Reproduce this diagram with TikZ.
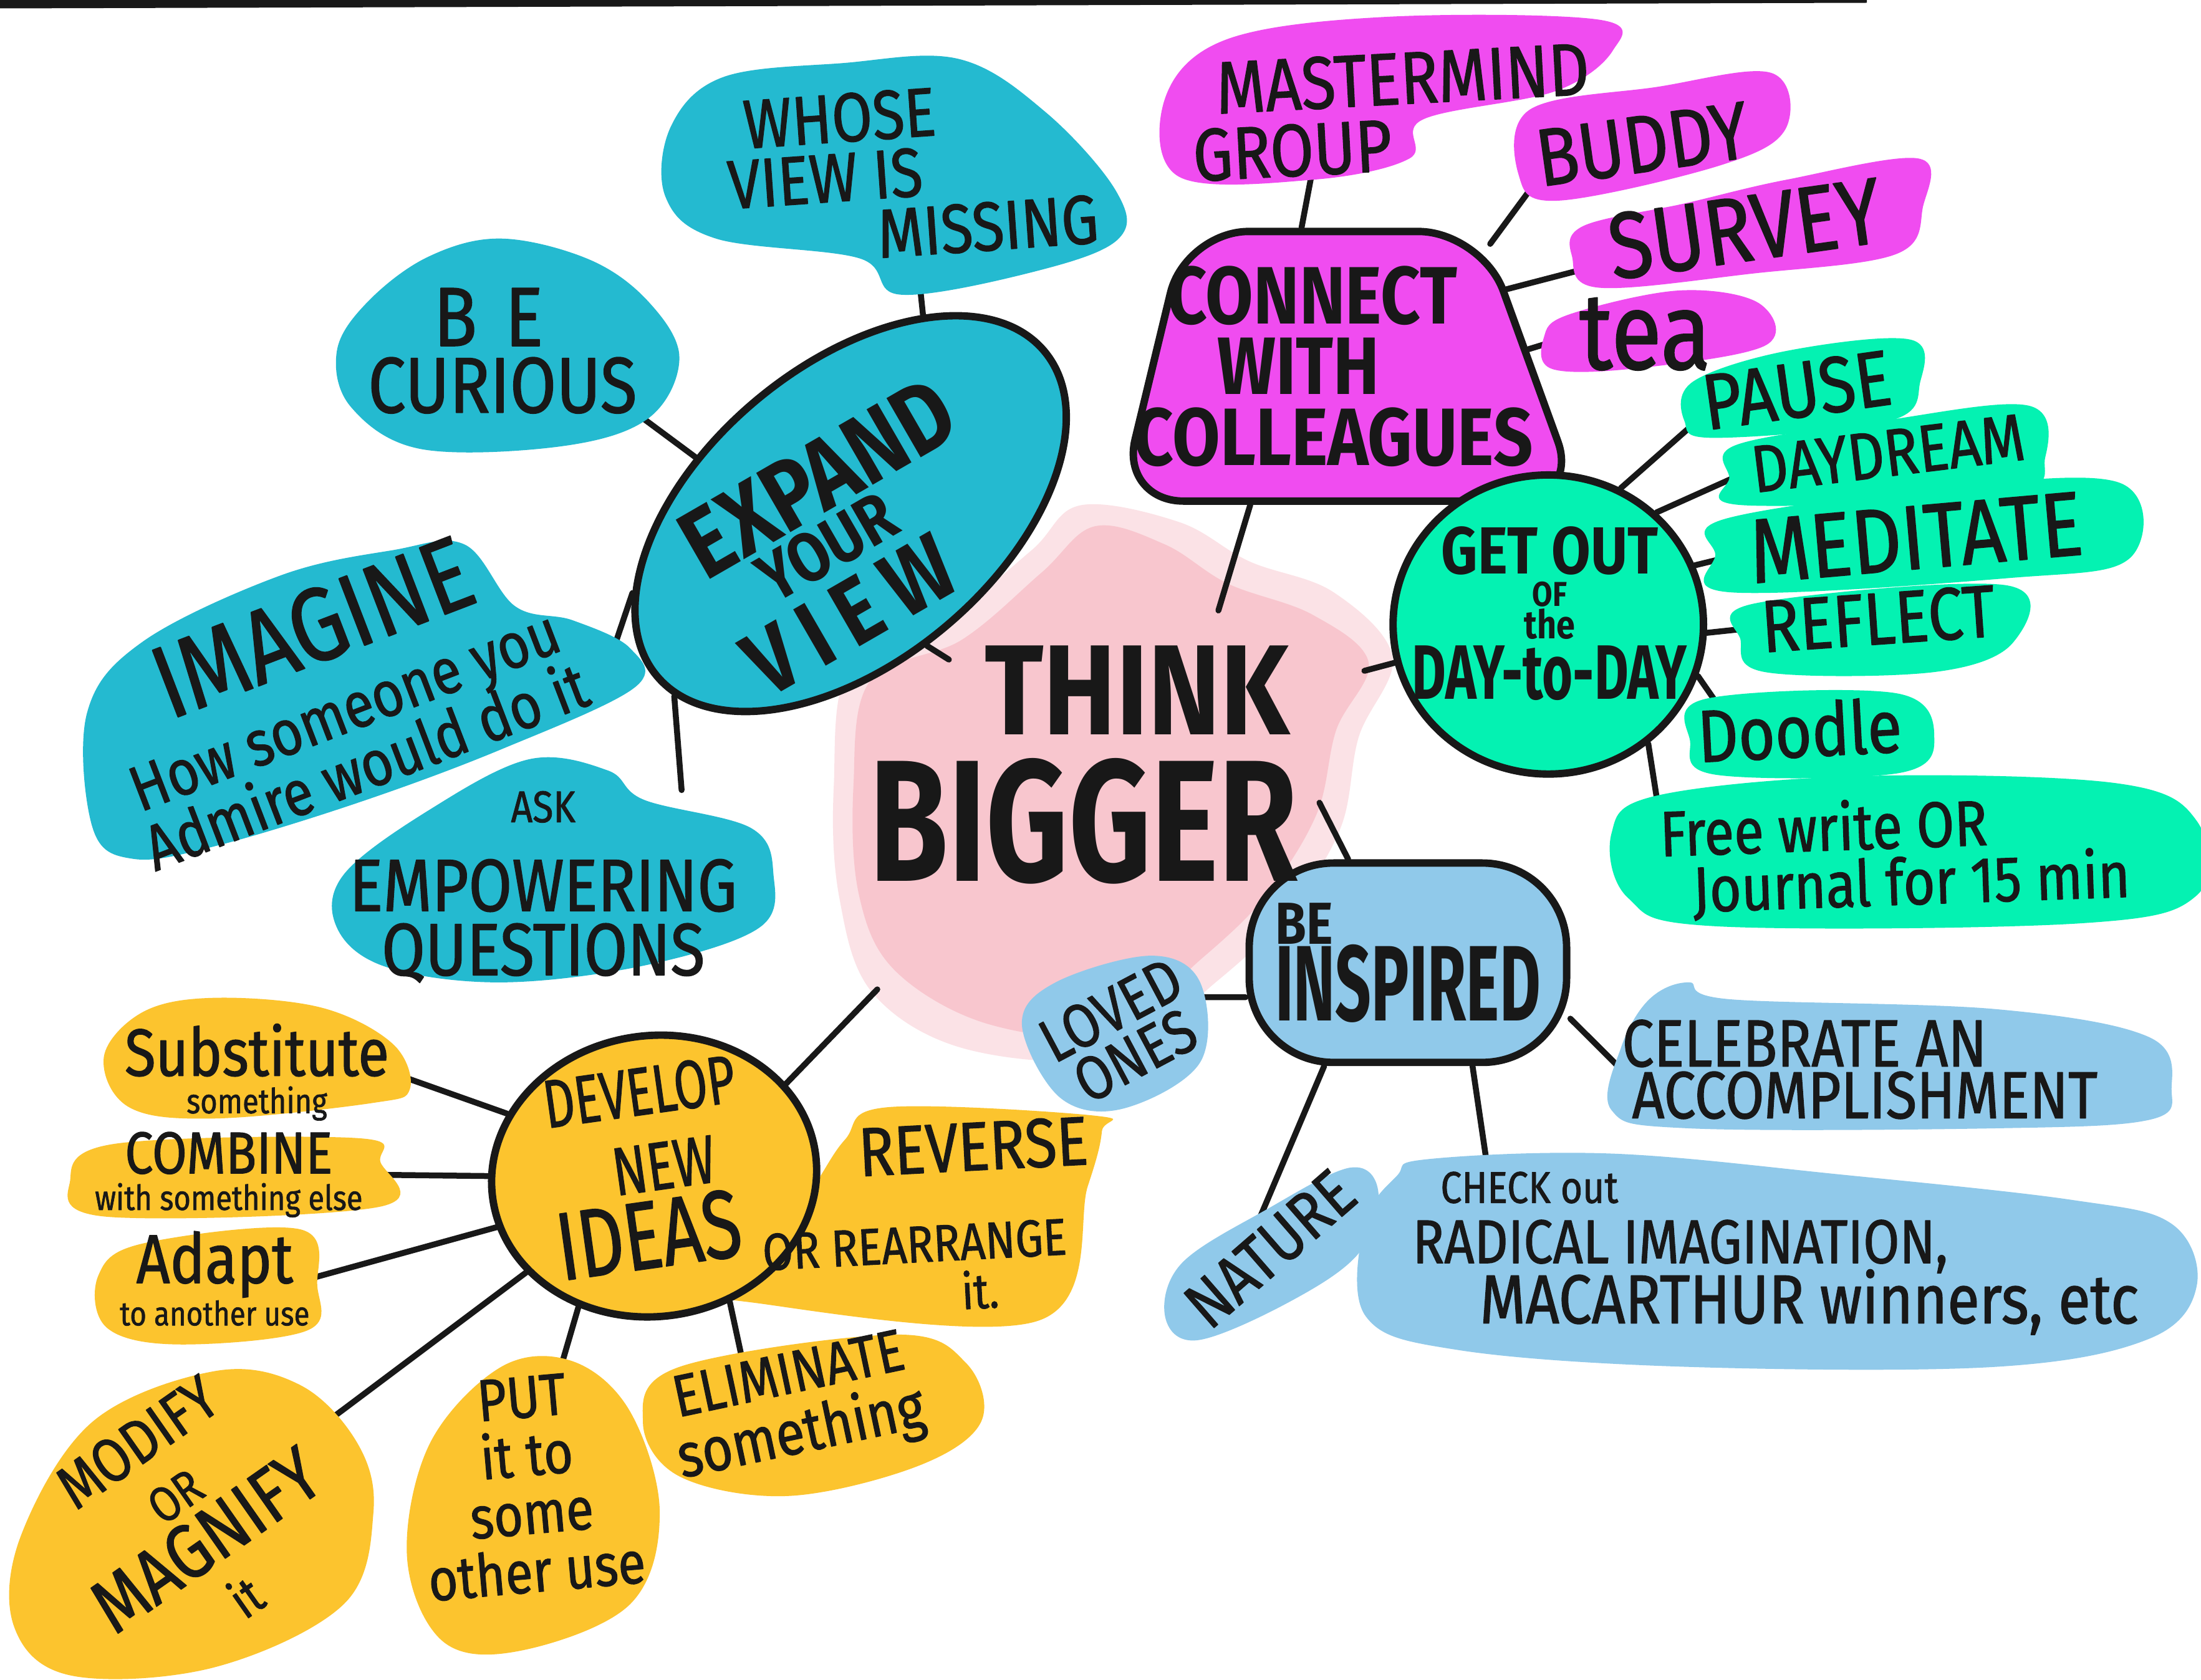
\documentclass[tikz,border=0pt]{standalone}
\usepackage{graphicx}
\usepackage{fontspec}
\setmainfont{Fira Sans}[FakeStretch=0.85, UprightFeatures={FakeBold=1.2}]
\usetikzlibrary{shapes.geometric,positioning}

\definecolor{ink}{RGB}{24,24,24}
\definecolor{viewcyan}{RGB}{36,186,208}
\definecolor{peermagenta}{RGB}{240,76,240}
\definecolor{breakgreen}{RGB}{4,242,178}
\definecolor{sparkblue}{RGB}{144,201,234}
\definecolor{ideayellow}{RGB}{252,196,46}
\definecolor{washpink}{RGB}{248,192,200}

\lineskiplimit=-100pt
\newcommand\fsz[2]{\fontsize{#1}{#2}\selectfont}
\newcommand\sz[1]{\fontsize{#1}{\the\baselineskip}\selectfont}
\newcommand\ctr[1]{\makebox[0pt]{#1}}

\pgfdeclarelayer{paint}
\pgfdeclarelayer{wires}
\pgfsetlayers{paint,wires,main}

\begin{document}
\begin{tikzpicture}
[x=0.01cm, y=-0.01cm, line join=round,
hub/.style={draw=ink, line width=1.5pt, inner sep=0pt, text=ink, align=center},
leaf/.style={inner sep=0pt, text=ink, align=center},
link/.style={draw=ink, line width=1.2pt, line cap=round},
blob/.style={smooth cycle, tension=0.6}
]
\useasboundingbox (0,0) rectangle (1568,1197);

% paper and watercolour wash
\begin{pgfonlayer}{paint}
\fill[white] (0,0) rectangle (1568,1197);
\fill[washpink, opacity=0.45] plot[blob] coordinates {(770,360) (840,372) (890,400) (950,422) (992,468) (968,525) (955,590) (918,650) (866,700) (795,752) (690,748) (622,708) (598,640) (594,560) (606,474) (675,440) (735,392)};
\fill[washpink, opacity=0.8] plot[blob] coordinates {(780,375) (830,388) (875,416) (935,438) (975,472) (952,520) (938,580) (902,638) (855,684) (790,735) (705,730) (638,692) (612,638) (608,560) (620,485) (685,456) (742,408)};
\end{pgfonlayer}
\fill[ink] (0,0) -- (1330,0) -- (1330,2) -- (0,6) -- cycle;

% expand your view
\fill[viewcyan] plot[blob] coordinates {(515,55) (600,45) (683,42) (745,80) (795,136) (797,170) (739,193) (642,210) (612,184) (510,170) (474,140) (478,90)};
\fill[viewcyan] plot[blob] coordinates {(357,170) (420,185) (462,215) (484,255) (462,298) (400,318) (300,320) (250,290) (240,250) (262,215) (305,183)};
\fill[viewcyan] plot[blob] coordinates {(331,388) (367,432) (408,442) (449,462) (452,490) (357,534) (255,572) (153,603) (95,612) (66,590) (62,508) (102,457) (200,410) (280,392)};
\fill[viewcyan] plot[blob] coordinates {(377,541) (433,549) (459,570) (535,590) (551,623) (541,661) (459,688) (357,700) (275,689) (240,661) (245,623) (306,577)};

% connect with colleagues
\fill[peermagenta] plot[blob] coordinates {(874,28) (988,12) (1139,14) (1149,36) (1108,65) (1014,85) (1004,113) (936,128) (840,126) (830,70)};
\fill[peermagenta] plot[blob] coordinates {(1090,78) (1180,62) (1262,52) (1272,92) (1225,118) (1110,143) (1082,125)};
\fill[peermagenta] plot[blob] coordinates {(1128,161) (1200,145) (1273,128) (1367,113) (1370,147) (1351,181) (1248,195) (1139,205) (1120,183)};
\fill[peermagenta] plot[blob] coordinates {(1118,224) (1196,207) (1253,216) (1258,246) (1170,262) (1106,263) (1100,240)};

% get out of the day-to-day
\fill[breakgreen] plot[blob] coordinates {(1206,272) (1273,250) (1361,242) (1368,272) (1346,300) (1222,312) (1200,300)};
\fill[breakgreen] plot[blob] coordinates {(1237,317) (1340,300) (1445,289) (1457,326) (1430,352) (1242,360) (1232,340)};
\fill[breakgreen] plot[blob] coordinates {(1228,370) (1380,348) (1510,344) (1517,398) (1430,412) (1232,422) (1222,395)};
\fill[breakgreen] plot[blob] coordinates {(1250,430) (1429,417) (1434,458) (1377,479) (1258,479) (1240,456)};
\fill[breakgreen] plot[blob] coordinates {(1215,498) (1351,494) (1378,526) (1352,551) (1222,552) (1204,528)};
\fill[breakgreen] plot[blob] coordinates {(1180,567) (1325,553) (1507,558) (1565,585) (1565,638) (1481,658) (1222,660) (1160,640) (1148,594)};

% be inspired
\fill[sparkblue] plot[blob] coordinates {(820,681) (855,700) (855,757) (800,790) (755,782) (728,730) (752,700)};
\fill[sparkblue] plot[blob] coordinates {(1175,712) (1203,700) (1232,712) (1421,719) (1531,739) (1547,776) (1531,798) (1421,804) (1203,804) (1148,791) (1155,746)};
\fill[sparkblue] plot[blob] coordinates {(962,832) (982,850) (968,893) (918,928) (853,955) (830,938) (842,900) (902,862)};
\fill[sparkblue] plot[blob] coordinates {(1017,826) (1148,822) (1312,837) (1476,855) (1547,872) (1565,916) (1531,954) (1421,974) (1203,974) (1039,962) (973,938) (972,872) (995,838)};

% develop new ideas
\fill[ideayellow] plot[blob] coordinates {(153,711) (229,718) (280,744) (292,776) (265,786) (153,797) (92,789) (74,753) (102,721)};
\fill[ideayellow] plot[blob] coordinates {(82,815) (255,811) (271,828) (270,860) (76,867) (50,841)};
\fill[ideayellow] plot[blob] coordinates {(102,886) (214,876) (226,916) (219,948) (127,958) (76,946) (70,909)};
\fill[ideayellow] plot[blob] coordinates {(632,789) (780,795) (785,806) (775,845) (740,941) (535,928) (530,915) (576,851) (602,812)};
\fill[ideayellow] plot[blob] coordinates {(484,974) (637,951) (688,971) (699,1013) (653,1045) (561,1066) (484,1052) (458,1013)};
\fill[ideayellow] plot[blob] coordinates {(357,974) (408,970) (449,1006) (470,1078) (449,1143) (372,1176) (316,1170) (290,1110) (306,1029)};
\fill[ideayellow] plot[blob] coordinates {(153,977) (214,987) (255,1029) (266,1078) (245,1143) (153,1188) (51,1194) (10,1159) (15,1094) (66,1013)};

% hubs
\node[hub, fill=viewcyan, ellipse, rotate=40, minimum width=3.6cm, minimum height=2.1cm] (expand) at (606,366) {};
\node[leaf, rotate=30, font=\bfseries\fsz{20}{11}] (expand-label) at (595,388)
  {\ctr{\hspace*{2.6mm}\sz{20}EXPAND}\\\ctr{\hspace*{-1.2mm}\sz{14}YOUR}\\[5pt]\ctr{\hspace*{-3.2mm}\sz{19}V\,I\,E\,W}};
\node[hub, fill=peermagenta, trapezium, trapezium left angle=72, trapezium right angle=64, trapezium stretches body, rounded corners=0.45cm, minimum width=3.27cm, minimum height=1.92cm, font=\bfseries\fsz{16.5}{14.3}] (connect) at (950,261)
  {\ctr{\hspace*{-3mm}\sz{16.5}CONNECT}\\\ctr{\hspace*{-5mm}\sz{16.5}WITH}\\\ctr{\sz{16.5}COLLEAGUES}};
\node[hub, fill=breakgreen, ellipse, minimum width=2.21cm, minimum height=2.13cm] (getout) at (1103,445) {};
\node[leaf, font=\bfseries\fsz{13}{6.6}] (getout-label) at (1104,437)
  {\sz{13.5}GET OUT\\\sz{7}OF\\\sz{8}the\\[5.6pt]\scalebox{1}[1.25]{\sz{12.5}DAY-to-DAY}};
\node[hub, fill=sparkblue, rectangle, rounded corners=0.6cm, minimum width=2.26cm, minimum height=1.42cm, align=left, font=\bfseries\fsz{15}{15.6}] (inspired) at (1003,686)
  {\sz{12}BE\\\scalebox{1}[1.45]{\sz{15}INSPIRED}};
\node[hub, fill=ideayellow, ellipse, rotate=8, minimum width=2.32cm, minimum height=2.0cm] (develop) at (466,838) {};
\node[leaf, rotate=8, font=\fsz{12}{15.5}] (develop-label) at (463,832)
  {\ctr{\scalebox{1}[1.2]{\sz{11.5}DEVELOP}}\\\ctr{\hspace*{2mm}\scalebox{1}[1.15]{\sz{12}NEW}}\\\ctr{\hspace*{-1.5mm}\scalebox{1}[1.15]{\sz{17}IDEAS}}};

\node[inner sep=0pt, text=ink, font=\bfseries\fsz{26}{26}] (think) at (810,492) {THINK};
\node[inner sep=0pt, text=ink, font=\bfseries\fsz{30.5}{30}] (bigger) at (772,585) {\scalebox{1}[1.15]{BIGGER}};

% leaves
\node[leaf, align=left, rotate=4, font=\fsz{14}{12}] (whose) at (649,123) {\hspace*{1.4mm}WHOSE\\VIEW IS\\\hspace*{10.4mm}MISSING};
\node[leaf, font=\fsz{16}{13.5}] (curious) at (358,250) {\hspace*{-2mm}\sz{17}B\hspace{2mm}E\\\sz{16}CURIOUS};
\node[leaf, rotate=21, font=\fsz{13}{12.3}] (imagine) at (240,492) {\sz{21}IMAGINE\\[3pt]\sz{13}How someone you\\\sz{13}Admire would do it};
\node[leaf, font=\fsz{15}{13}] (ask) at (387,632) {\sz{9}ASK\\[5pt]\sz{15}EMPOWERING\\\sz{15}QUESTIONS};

\node[leaf, align=left, rotate=3, font=\fsz{15}{13.4}] (mastermind) at (991,80) {\hspace*{1.9mm}MASTERMIND\\GROUP};
\node[leaf, rotate=8, font=\fsz{16.5}{16}] (buddy) at (1170,103) {BUDDY};
\node[leaf, rotate=8, font=\fsz{19}{19}] (survey) at (1243,163) {SURVEY};
\node[leaf, font=\fsz{22}{22}] (tea) at (1172,238) {tea};

\node[leaf, rotate=8, font=\fsz{16}{16}] (pause) at (1280,278) {PAUSE};
\node[leaf, rotate=7, font=\fsz{13.5}{13}] (daydream) at (1345,323) {DAYDREAM};
\node[leaf, rotate=5, font=\fsz{18.5}{18}] (meditate) at (1365,383) {MEDITATE};
\node[leaf, rotate=4, font=\fsz{15}{15}] (reflect) at (1338,441) {REFLECT};
\node[leaf, rotate=3, font=\fsz{15}{15}] (doodle) at (1282,520) {Doodle};
\node[leaf, align=left, rotate=2, font=\fsz{13}{11.5}] (free) at (1350,610) {Free write OR\\\hspace*{2.2mm}Journal for 15 min};

\node[leaf, rotate=28, font=\fsz{12.5}{10.5}] (loved) at (800,736) {LOVED\\ONES};
\node[leaf, align=left, font=\fsz{13.5}{10.5}] (celebrate) at (1325,762) {CELEBRATE AN\\\hspace*{0.7mm}ACCOMPLISHMENT};
\node[leaf, rotate=41, font=\fsz{13.5}{13}] (nature) at (905,890) {NATURE};
\node[leaf, align=left, font=\fsz{13}{12.2}] (check) at (1265,893) {\hspace*{2mm}\sz{9}CHECK out\\\sz{12.5}RADICAL IMAGINATION,\\\hspace*{4.8mm}\sz{14}MACARTHUR winners, etc};

\node[leaf, font=\fsz{13.5}{7.6}] (subst) at (183,764) {\sz{13.5}Substitute\\\sz{7}something};
\node[leaf, font=\fsz{12}{7.4}] (combine) at (163,837) {\sz{12}COMBINE\\\sz{7}with something else};
\node[leaf, font=\fsz{13}{8.6}] (adapt) at (153,911) {\sz{14}Adapt\\\sz{6.8}to another use};
\node[leaf, align=left, rotate=3, font=\fsz{14}{10}] (reverse) at (660,868) {\hspace*{7.2mm}\sz{14}REVERSE\\[8pt]\sz{10.5}OR REARRANGE\\\hspace*{14mm}\sz{10}it.};
\node[leaf, rotate=12, font=\fsz{12}{12.2}] (elim) at (567,1004) {\sz{12}ELIMINATE\\\sz{12.5}something};
\node[leaf, rotate=5, font=\fsz{12}{11.8}] (put) at (377,1058) {PUT\\it to\\some\\other use};
\node[leaf, rotate=35, font=\fsz{13}{12.6}] (modify) at (136,1082) {\sz{12.5}MODIFY\\\sz{10}OR\\\sz{15.5}MAGNIFY\\\sz{10.5}it};

% loose ends towards the centre
\coordinate (x-expand) at (676,470);
\coordinate (x-connect) at (868,435);
\coordinate (x-getout) at (972,478);
\coordinate (x-inspired) at (940,572);
\coordinate (x-develop) at (625,705);

\begin{pgfonlayer}{wires}
\draw[link] (expand.30) -- (whose.south);
\draw[link] (expand.120) -- (curious.south east);
\draw[link] (expand.160) -- (imagine.south east);
\draw[link] (expand.186) -- (ask.35);
\draw[link] (expand.-100) -- (x-expand);

\draw[link] (connect.103) -- (mastermind.216);
\draw[link] (connect.38) -- (buddy.190);
\draw[link] (connect.24) -- (survey.186);
\draw[link] (connect.5) -- (tea.west);
\draw[link] (connect.239) -- (x-connect);

\draw[link] (getout.62) -- (pause.187);
\draw[link] (getout.46) -- (daydream.west);
\draw[link] (getout.22) -- (meditate.west);
\draw[link] (getout.-3) -- (reflect.west);
\draw[link] (getout.-19) -- (doodle.160);
\draw[link] (getout.-50) -- (free.north west);
\draw[link] (getout.194) -- (x-getout);

\draw[link] (inspired.192) -- (loved.east);
\draw[link] (inspired.-19) -- (celebrate.west);
\draw[link] (inspired.231) -- (nature.north);
\draw[link] (inspired.-58) -- (check.164);
\draw[link] (inspired.120) -- (x-inspired);

\draw[link] (develop.149) -- (subst.east);
\draw[link] (develop.172) -- (combine.east);
\draw[link] (develop.190) -- (adapt.east);
\draw[link] (develop.209) -- (modify.east);
\draw[link] (develop.232) -- (put.70);
\draw[link] (develop.-67) -- (elim.126);
\draw[link] (develop.-16) -- (reverse);
\draw[link] (develop.27) -- (x-develop);
\end{pgfonlayer}
\end{tikzpicture}
\end{document}
